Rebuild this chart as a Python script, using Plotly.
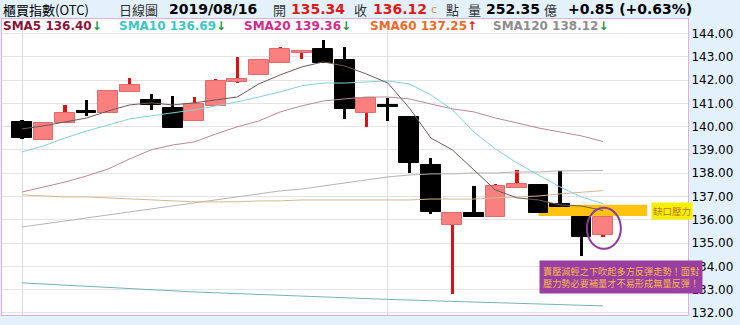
import plotly.graph_objects as go

# ---------------- data ----------------
idx = list(range(28))
opens  = [140.20,139.44,140.16,140.60,140.59,141.49,141.14,140.80,140.24,140.89,
          141.92,142.22,142.73,143.16,143.33,142.86,140.59,140.86,140.41,138.35,
          135.78,136.29,136.12,137.37,137.50,136.68,136.12,135.34]
highs  = [140.29,140.16,140.93,141.14,141.53,142.09,141.40,141.32,141.27,142.05,
          142.99,142.91,143.42,143.25,143.72,143.42,141.23,141.23,140.41,138.65,
          136.34,137.45,137.54,138.14,137.50,138.10,136.12,136.16]
lows   = [139.47,139.44,140.16,140.46,140.59,141.49,140.72,139.94,140.24,140.89,
          141.87,142.22,142.73,142.91,142.73,140.33,139.99,140.24,138.01,136.25,
          132.81,136.12,136.12,137.37,136.29,136.55,134.45,135.26]
closes = [139.53,140.16,140.59,140.57,141.53,141.79,140.93,139.94,140.97,141.96,
          142.05,142.86,143.33,143.25,142.73,140.76,141.23,140.84,138.44,136.34,
          136.29,136.12,137.45,137.54,136.29,136.55,135.27,136.12]

sma5   = [139.90,140.03,140.20,140.37,140.67,140.93,141.02,140.93,141.02,141.14,
          141.27,141.83,142.22,142.56,142.78,142.60,142.26,141.87,140.80,139.51,
          139.00,138.14,137.28,136.94,136.85,136.64,136.59,136.40]
sma10  = [138.91,139.17,139.51,139.81,140.07,140.33,140.46,140.59,140.72,140.89,
          141.06,141.27,141.49,141.75,141.87,141.87,141.92,141.96,141.83,141.36,
          140.72,139.77,139.04,138.44,137.92,137.41,136.98,136.69]
sma20  = [137.19,137.41,137.62,137.88,138.18,138.61,139.00,139.21,139.34,139.68,
          139.99,140.24,140.63,140.89,141.10,141.19,141.27,141.27,141.19,140.97,
          140.76,140.63,140.37,140.16,139.94,139.77,139.60,139.36]
sma60  = [137.07,137.02,136.98,136.98,136.94,136.89,136.85,136.81,136.77,136.77,
          136.77,136.81,136.81,136.85,136.85,136.85,136.85,136.85,136.85,136.89,
          136.89,136.89,136.94,136.98,137.02,137.11,137.19,137.25]
sma120 = [135.69,135.82,135.95,136.08,136.21,136.34,136.46,136.59,136.72,136.85,
          136.98,137.11,137.24,137.32,137.45,137.58,137.71,137.84,137.92,137.97,
          137.97,138.01,138.01,138.05,138.05,138.10,138.10,138.12]
long_ma_x = [0, 8, 17, 27]
long_ma   = [133.29, 132.90, 132.58, 132.30]

month_marks = [0, 17]
tri_marks = [8, 18]
y_ticks = [132,133,134,135,136,137,138,139,140,141,142,143,144]

title_name = "櫃買指數(OTC)"
chart_type = "日線圖"
date_str = "2019/08/16"
open_val, close_val = 135.34, 136.12
vol_val = 252.35
chg_val, chg_pct = 0.85, 0.63
sma_names = ["SMA5", "SMA10", "SMA20", "SMA60", "SMA120"]
sma_last = [136.40, 136.69, 139.36, 137.25, 138.12]
sma_up = [False, False, False, True, False]

gap_low, gap_high = 136.16, 136.64
gap_x0, gap_x1 = 24, 29.05
note_label = "缺口壓力"
note_text = "賣壓減輕之下吹起多方反彈走勢！面對<br>壓力勢必要補量才不易形成無量反彈！"

# ---------------- styles ----------------
PINK = "#fa8080"; PINK_EDGE = "#e26a6a"; RED = "#dd1111"; BLACK = "#000000"
BG = "#e2f1fb"
NUM_FONT = "DejaVu Sans"; CJK = "Noto Sans CJK TC"
L, R, T, B = 2, 52, 19, 10
W, H = 740, 325
PW, PH = W - L - R, H - T - B

def fx(px):
    return (px - L) / PW

def fy(py):
    return (H - B - py) / PH

up = [c >= o for o, c in zip(opens, closes)]
MINB = 0.1

fig = go.Figure()

# MA lines
ma_styles = [(sma120, "#b4b4b4"), (sma60, "#d4b896"), (sma20, "#b58a9c"),
             (sma10, "#86d2d2"), (sma5, "#6e5a5a")]
for vals, col in ma_styles:
    fig.add_trace(go.Scatter(x=idx, y=vals, mode="lines", line=dict(color=col, width=1),
                             hoverinfo="skip", showlegend=False))
fig.add_trace(go.Scatter(x=long_ma_x, y=long_ma, mode="lines", line=dict(color="#74b4b4", width=1),
                         hoverinfo="skip", showlegend=False))

# wicks
for flag, col in [(True, RED), (False, BLACK)]:
    xs = [i for i in idx if up[i] == flag]
    fig.add_trace(go.Bar(x=xs, base=[lows[i] for i in xs],
                         y=[highs[i] - lows[i] for i in xs], width=0.15,
                         marker=dict(color=col, line=dict(width=0)),
                         hoverinfo="skip", showlegend=False))
# bodies
for flag, col, edge in [(True, PINK, PINK_EDGE), (False, BLACK, BLACK)]:
    xs = [i for i in idx if up[i] == flag]
    fig.add_trace(go.Bar(x=xs, base=[min(opens[i], closes[i]) for i in xs],
                         y=[max(abs(closes[i] - opens[i]), MINB) for i in xs], width=0.92,
                         marker=dict(color=col, line=dict(color=edge, width=1)),
                         hoverinfo="skip", showlegend=False))

# small triangles at the bottom
fig.add_trace(go.Scatter(x=tri_marks, y=[131.86] * len(tri_marks), mode="markers",
                         marker=dict(symbol="triangle-up-open", size=10, color="#d8a8d8",
                                     line=dict(width=1)),
                         cliponaxis=False, hoverinfo="skip", showlegend=False))

shapes = [
    dict(type="rect", xref="x", yref="y", x0=gap_x0, x1=gap_x1, y0=gap_low, y1=gap_high,
         fillcolor="#ffc20e", line=dict(width=0), layer="below"),
    dict(type="circle", xref="x", yref="y", x0=26.25, x1=27.83, y0=134.75, y1=136.51,
         line=dict(color="#8e3a9e", width=2), layer="above"),
]

ann = []
def txt(px, py, text, size, color, font=NUM_FONT, bold=False):
    t = f"<b>{text}</b>" if bold else text
    ann.append(dict(xref="paper", yref="paper", x=fx(px), y=fy(py), xanchor="left",
                    yanchor="middle", text=t, showarrow=False,
                    font=dict(family=font, size=size, color=color)))

# header line
txt(1, 9, title_name, 13, "#000000", CJK)
txt(117, 9, chart_type, 13, "#333333", CJK)
txt(167, 9, date_str, 14, "#000000", bold=True)
txt(271, 9, "開", 13, "#333333", CJK)
txt(289, 9, f"{open_val:.2f}", 14, "#e01818", bold=True)
txt(352, 9, "收", 13, "#333333", CJK)
txt(371, 9, f"{close_val:.2f}", 14, "#e01818", bold=True)
txt(429, 10, "c", 11, "#d09048")
txt(444, 9, "點", 13, "#333333", CJK)
txt(466, 9, "量", 13, "#333333", CJK)
txt(484, 9, f"{vol_val:.2f}", 14, "#000000", bold=True)
txt(542, 9, "億", 13, "#333333", CJK)
txt(566, 9, f"{chg_val:+.2f} ({chg_pct:+.2f}%)", 14, "#000000", bold=True)

# SMA legend line
sma_cols = ["#8b1538", "#3cc6c6", "#d42a8a", "#f06a2a", "#8e8e8e"]
sma_px = [1, 117, 242, 368, 491]
for name, val, isup, col, px in zip(sma_names, sma_last, sma_up, sma_cols, sma_px):
    arrow = '<span style="color:#e02020">↑</span>' if isup else '<span style="color:#1a9a3a">↓</span>'
    txt(px, 26, f"<b>{name} {val:.2f}</b><b>{arrow}</b>", 12, col)

# gap label
ann.append(dict(xref="paper", yref="paper", x=fx(651), y=fy(210.5), xanchor="left",
                yanchor="middle", text=note_label, showarrow=False, bgcolor="#f6f000",
                borderpad=1, font=dict(family=CJK, size=9.5, color="#c07820")))
# purple note
ann.append(dict(xref="paper", yref="paper", x=fx(539), y=fy(260), xanchor="left",
                yanchor="top", text=note_text, showarrow=False, bgcolor="#9a3ea2",
                borderpad=3, align="left",
                font=dict(family=CJK, size=9.2, color="#f8b848")))

fig.update_layout(
    width=W, height=H, margin=dict(l=L, r=R, t=T, b=B),
    paper_bgcolor=BG, plot_bgcolor="#ffffff", barmode="overlay", bargap=0,
    showlegend=False, shapes=shapes, annotations=ann,
    xaxis=dict(range=[-0.93, 30.95], tickvals=month_marks, showticklabels=False,
               showgrid=True, gridcolor="#d6dee4", gridwidth=1, zeroline=False,
               showline=True, mirror=True, linecolor="#ddb0dd", linewidth=1, ticks="",
               fixedrange=True),
    yaxis=dict(range=[131.91, 144.62], side="right", tickvals=y_ticks,
               ticktext=[f"{v:.2f}" for v in y_ticks], showgrid=True, gridcolor="#e4e4e4",
               gridwidth=1, zeroline=False, showline=True, mirror=True,
               linecolor="#ddb0dd", linewidth=1, ticks="",
               tickfont=dict(family=NUM_FONT, size=12, color="#000000"),
               fixedrange=True),
)

fig.write_html("out.html")
